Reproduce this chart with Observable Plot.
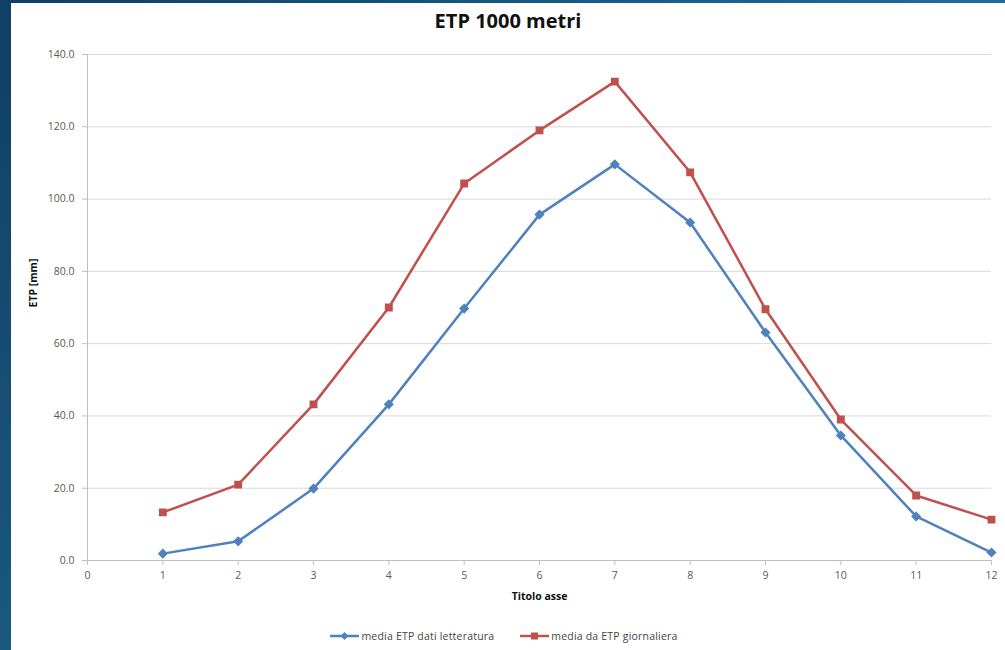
<!DOCTYPE html>
<html>
<head>
<meta charset="utf-8">
<script src="https://cdn.jsdelivr.net/npm/d3@7"></script>
<script src="https://cdn.jsdelivr.net/npm/@observablehq/plot@0.6"></script>
<style>
  html, body { margin: 0; padding: 0; }
  body {
    width: 1005px; height: 650px; overflow: hidden; position: relative;
    background: linear-gradient(180deg, #0f3f66 0%, #1b587e 100%);
    font-family: "Open Sans", "Liberation Sans", sans-serif;
  }
  #frame {
    position: absolute; left: 11px; top: 3px; width: 994px; height: 647px;
    background: #ffffff;
  }
  #topband {
    position: absolute; left: 0; top: 0; width: 1005px; height: 3px;
    background: linear-gradient(90deg, #0f3f66 0%, #1f6e9a 100%);
  }
  #title {
    position: absolute; left: 0; top: 4px; width: 994px; text-align: center;
    font-size: 20px; font-weight: bold; color: #111;
  }
  #chart { position: absolute; left: 0; top: 38px; }
  #legend {
    position: absolute; left: 0; top: 626px; width: 994px;
    display: flex; justify-content: center; gap: 26px; padding-right: 8px; box-sizing: border-box;
    font-size: 10.5px; letter-spacing: 0.2px; color: #444;
  }
  #legend .item { display: flex; align-items: center; gap: 2px; }
</style>
</head>
<body>
<div id="topband"></div>
<div id="frame">
  <div id="title">ETP 1000 metri</div>
  <div id="chart"></div>
  <div id="legend"></div>
</div>
<script>
// Monthly evapotranspiration at 1000 m (mm), two estimates
const months = [1, 2, 3, 4, 5, 6, 7, 8, 9, 10, 11, 12];
const etpLetteratura = [1.9, 5.3, 19.9, 43.2, 69.7, 95.7, 109.6, 93.5, 63.1, 34.6, 12.2, 2.2];
const etpGiornaliera = [13.3, 21.0, 43.2, 70.0, 104.3, 119.0, 132.5, 107.4, 69.5, 39.0, 18.0, 11.3];
const seriesNames = ["media ETP dati letteratura", "media da ETP giornaliera"];
const seriesColors = ["#4f81bd", "#c0504d"];
const seriesSymbols = ["diamond2", "square"];
const xTicks = [0, 1, 2, 3, 4, 5, 6, 7, 8, 9, 10, 11, 12];
const yTicks = [0, 20, 40, 60, 80, 100, 120, 140];
const xTitle = "Titolo asse";
const yTitle = "ETP [mm]";

const rows = [
  ...months.map((m, i) => ({month: m, value: etpLetteratura[i], series: seriesNames[0]})),
  ...months.map((m, i) => ({month: m, value: etpGiornaliera[i], series: seriesNames[1]}))
];

const chart = Plot.plot({
  width: 994,
  height: 574,
  marginLeft: 76,
  marginRight: 14,
  marginTop: 13,
  marginBottom: 55,
  style: {fontFamily: "'Open Sans', 'Liberation Sans', sans-serif", fontSize: "10.5px", color: "#595959", background: "white", overflow: "visible"},
  x: {domain: [0, 12]},
  y: {domain: [0, 140]},
  color: {domain: seriesNames, range: seriesColors},
  symbol: {domain: seriesNames, range: seriesSymbols},
  marks: [
    Plot.gridY(yTicks, {stroke: "#d9d9d9", strokeOpacity: 1, strokeWidth: 1}),
    Plot.ruleY([0], {stroke: "#bfbfbf", strokeWidth: 1}),
    Plot.ruleX([0], {stroke: "#bfbfbf", strokeWidth: 1}),
    Plot.axisY({
      ticks: yTicks, tickFormat: d3.format(".1f"), tickSize: 5, tickPadding: 8,
      stroke: "#bfbfbf", label: null, fill: "#595959"
    }),
    Plot.axisX({
      ticks: xTicks, tickFormat: d3.format("d"), tickSize: 5, tickPadding: 6,
      stroke: "#bfbfbf", label: null, fill: "#595959"
    }),
    // Axis titles, centred on the plotting frame
    Plot.text([xTitle], {frameAnchor: "bottom", dy: 39, text: d => d, fontWeight: "bold", fill: "#111", fontSize: 10.5, letterSpacing: 0.4}),
    Plot.text([yTitle], {frameAnchor: "left", dx: -54, rotate: -90, text: d => d, fontWeight: "bold", fill: "#111", fontSize: 10.5, letterSpacing: 0.8}),
    Plot.line(rows, {x: "month", y: "value", z: "series", stroke: "series", strokeWidth: 2.5}),
    Plot.dot(rows, {x: "month", y: "value", symbol: "series", fill: "series", stroke: "series", r: 3.6})
  ]
});
document.getElementById("chart").appendChild(chart);

// Legend below the chart, built from the series arrays
const legend = document.getElementById("legend");
seriesNames.forEach((name, i) => {
  const item = document.createElement("div");
  item.className = "item";
  const marker = seriesSymbols[i] === "square"
    ? `<rect x="11" y="3.5" width="7" height="7" fill="${seriesColors[i]}"/>`
    : `<path d="M14.5 3 L18.5 7 L14.5 11 L10.5 7 Z" fill="${seriesColors[i]}"/>`;
  item.innerHTML = `<svg width="29" height="14"><line x1="0" y1="7" x2="29" y2="7" stroke="${seriesColors[i]}" stroke-width="2.5"/>${marker}</svg><span>${name}</span>`;
  legend.appendChild(item);
});
</script>
</body>
</html>
